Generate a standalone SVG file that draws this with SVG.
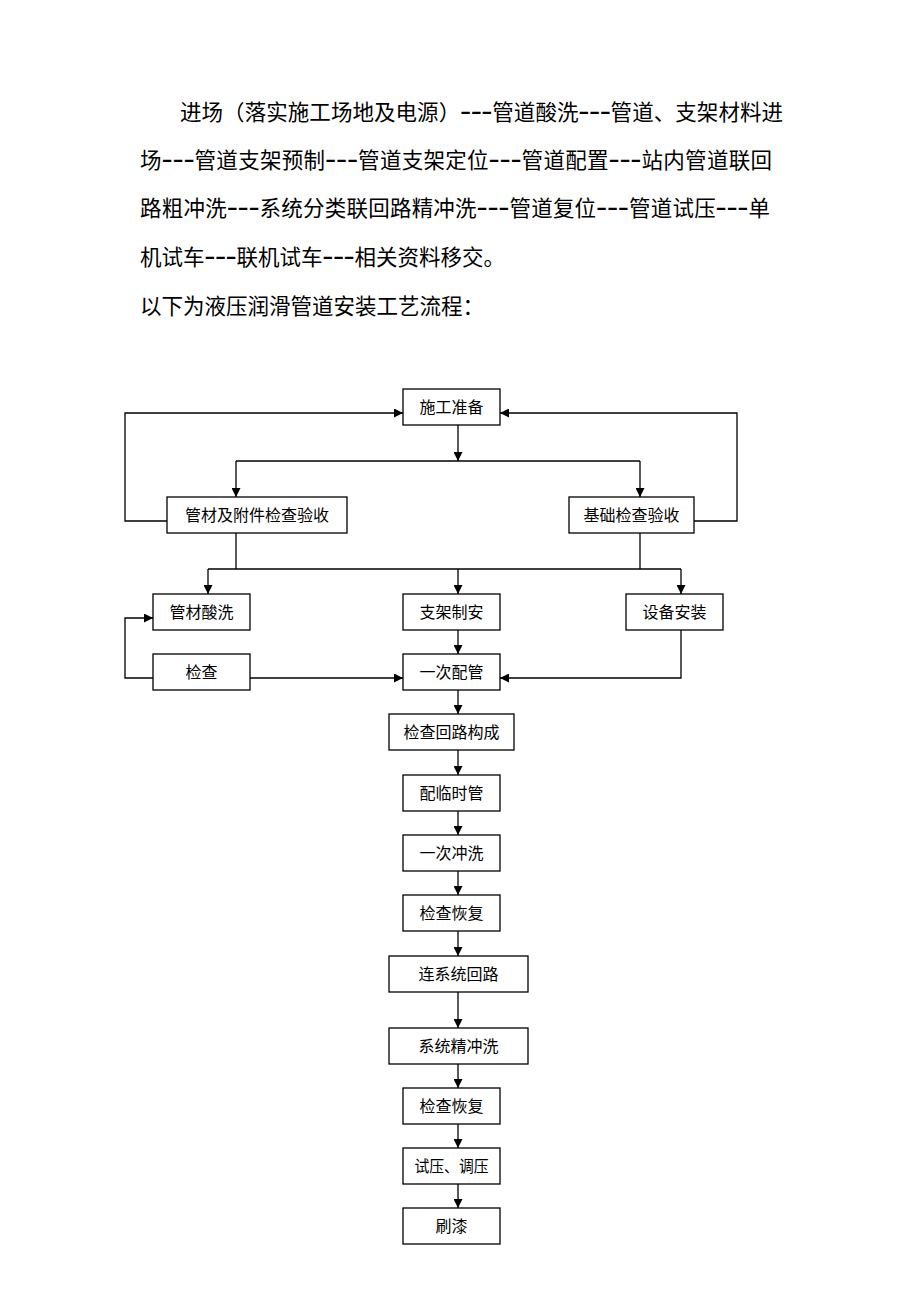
<svg xmlns="http://www.w3.org/2000/svg" width="920" height="1302" viewBox="0 0 920 1302">
<style>
.para{font-family:"Liberation Serif","Noto Sans CJK SC",serif;font-size:21.5px;fill:#000}
.para .h{font-family:"Liberation Serif",serif;font-size:32px}
.box rect{fill:#fff;stroke:#000;stroke-width:1.3}
.box text{font-family:"Liberation Serif","Noto Sans CJK SC",serif;font-size:16px;fill:#000;text-anchor:middle}
.conn path{fill:none;stroke:#000;stroke-width:1.3}
</style>
<defs>
<marker id="ah" viewBox="0 0 10 10" refX="10" refY="5" markerWidth="9" markerHeight="9" markerUnits="userSpaceOnUse" orient="auto">
<path d="M0,0 L10,5 L0,10 z" fill="#000"/>
</marker>
</defs>
<rect width="920" height="1302" fill="#fff"/>
<g id="paragraph">
<text class="para" x="180" y="120" textLength="603" lengthAdjust="spacing">进场（落实施工场地及电源）<tspan class="h">---</tspan>管道酸洗<tspan class="h">---</tspan>管道、支架材料进</text>
<text class="para" x="140" y="168" textLength="632" lengthAdjust="spacing">场<tspan class="h">---</tspan>管道支架预制<tspan class="h">---</tspan>管道支架定位<tspan class="h">---</tspan>管道配置<tspan class="h">---</tspan>站内管道联回</text>
<text class="para" x="140" y="216" textLength="630" lengthAdjust="spacing">路粗冲洗<tspan class="h">---</tspan>系统分类联回路精冲洗<tspan class="h">---</tspan>管道复位<tspan class="h">---</tspan>管道试压<tspan class="h">---</tspan>单</text>
<text class="para" x="140" y="265">机试车<tspan class="h">---</tspan>联机试车<tspan class="h">---</tspan>相关资料移交。</text>
<text class="para" x="140" y="314">以下为液压润滑管道安装工艺流程：</text>
</g>
<g id="connectors" class="conn">
<path d="M167,521 H125 V413 H403" marker-end="url(#ah)"/>
<path d="M694,521 H737 V413 H500" marker-end="url(#ah)"/>
<path d="M458,425 V461" marker-end="url(#ah)"/>
<path d="M236,461 H640"/>
<path d="M236,461 V497" marker-end="url(#ah)"/>
<path d="M640,461 V497" marker-end="url(#ah)"/>
<path d="M236,533 V569"/>
<path d="M640,533 V569"/>
<path d="M208,569 H681"/>
<path d="M208,569 V594" marker-end="url(#ah)"/>
<path d="M458,569 V594" marker-end="url(#ah)"/>
<path d="M681,569 V594" marker-end="url(#ah)"/>
<path d="M458,630 V654" marker-end="url(#ah)"/>
<path d="M250,678 H403" marker-end="url(#ah)"/>
<path d="M153,678 H125 V618 H153" marker-end="url(#ah)"/>
<path d="M681,630 V678 H500" marker-end="url(#ah)"/>
<path d="M458,690 V714" marker-end="url(#ah)"/>
<path d="M458,750 V775" marker-end="url(#ah)"/>
<path d="M458,811 V835" marker-end="url(#ah)"/>
<path d="M458,871 V895" marker-end="url(#ah)"/>
<path d="M458,931 V956" marker-end="url(#ah)"/>
<path d="M458,992 V1028" marker-end="url(#ah)"/>
<path d="M458,1064 V1088" marker-end="url(#ah)"/>
<path d="M458,1124 V1148" marker-end="url(#ah)"/>
<path d="M458,1184 V1208" marker-end="url(#ah)"/>
</g>
<g id="n1" class="box"><rect x="403" y="389" width="97" height="36"/><text x="451.5" y="413">施工准备</text></g>
<g id="n2" class="box"><rect x="167" y="497" width="180" height="36"/><text x="257" y="521">管材及附件检查验收</text></g>
<g id="n3" class="box"><rect x="569" y="497" width="125" height="36"/><text x="631.5" y="521">基础检查验收</text></g>
<g id="n4" class="box"><rect x="153" y="594" width="97" height="36"/><text x="201.5" y="618">管材酸洗</text></g>
<g id="n5" class="box"><rect x="403" y="594" width="97" height="36"/><text x="451.5" y="618">支架制安</text></g>
<g id="n6" class="box"><rect x="626" y="594" width="97" height="36"/><text x="674.5" y="618">设备安装</text></g>
<g id="n7" class="box"><rect x="153" y="654" width="97" height="36"/><text x="201.5" y="678">检查</text></g>
<g id="n8" class="box"><rect x="403" y="654" width="97" height="36"/><text x="451.5" y="678">一次配管</text></g>
<g id="n9" class="box"><rect x="389" y="714" width="125" height="36"/><text x="451.5" y="738">检查回路构成</text></g>
<g id="n10" class="box"><rect x="403" y="775" width="97" height="36"/><text x="451.5" y="799">配临时管</text></g>
<g id="n11" class="box"><rect x="403" y="835" width="97" height="36"/><text x="451.5" y="859">一次冲洗</text></g>
<g id="n12" class="box"><rect x="403" y="895" width="97" height="36"/><text x="451.5" y="919">检查恢复</text></g>
<g id="n13" class="box"><rect x="389" y="956" width="139" height="36"/><text x="458.5" y="980">连系统回路</text></g>
<g id="n14" class="box"><rect x="389" y="1028" width="139" height="36"/><text x="458.5" y="1052">系统精冲洗</text></g>
<g id="n15" class="box"><rect x="403" y="1088" width="97" height="36"/><text x="451.5" y="1112">检查恢复</text></g>
<g id="n16" class="box"><rect x="403" y="1148" width="97" height="36"/><text x="451.5" y="1172" textLength="74" lengthAdjust="spacingAndGlyphs">试压、调压</text></g>
<g id="n17" class="box"><rect x="403" y="1208" width="97" height="36"/><text x="451.5" y="1232">刷漆</text></g>
</svg>
